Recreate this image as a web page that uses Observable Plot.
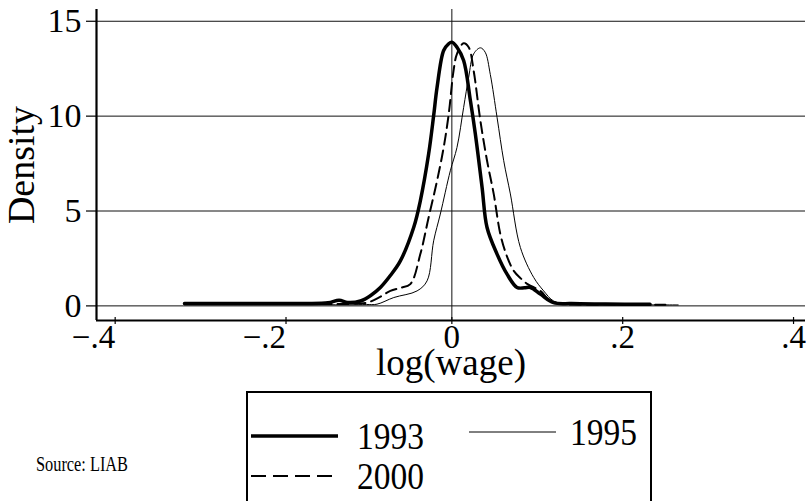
<!DOCTYPE html>
<html>
<head>
<meta charset="utf-8">
<script src="https://cdn.jsdelivr.net/npm/d3@7"></script>
<script src="https://cdn.jsdelivr.net/npm/@observablehq/plot@0.6"></script>
<style>
  html, body { margin: 0; padding: 0; background: #fff; }
  #wrap { position: relative; width: 807px; height: 501px; background: #fff; overflow: hidden; font-family: "Liberation Serif", "DejaVu Serif", serif; }
  #chart { position: absolute; left: 0; top: 0; }
  #legend { position: absolute; left: 0; top: 0; }
</style>
</head>
<body>
<div id="wrap">
  <div id="chart"></div>
  <div id="legend"></div>
</div>
<script>
// ---- data ----
const series = ["1993", "1995", "2000"];

const x1993 = [-0.313, -0.25, -0.18, -0.145, -0.132, -0.122, -0.107, -0.095, -0.0837, -0.072, -0.0603, -0.0447, -0.0369, -0.0272, -0.0213, -0.0173, -0.0096, -0.004, 0.000, 0.006, 0.0138, 0.0217, 0.0275, 0.0354, 0.0412, 0.0529, 0.0646, 0.0763, 0.085, 0.092, 0.1036, 0.119, 0.14, 0.18, 0.232];
const d1993 = [0.12, 0.12, 0.13, 0.16, 0.30, 0.18, 0.26, 0.55, 0.97, 1.6, 2.37, 4.13, 5.54, 8.0, 10.03, 11.52, 13.46, 13.8, 13.9, 13.63, 12.93, 10.82, 9.06, 6.24, 4.13, 2.73, 1.67, 0.97, 0.95, 0.97, 0.62, 0.17, 0.12, 0.1, 0.08];

const x1995 = [-0.313, -0.2, -0.12, -0.1, -0.0876, -0.068, -0.0407, -0.029, -0.0213, -0.0135, -0.0018, 0.006, 0.0138, 0.0197, 0.0255, 0.0334, 0.039, 0.045, 0.0529, 0.0607, 0.0685, 0.0802, 0.0958, 0.1075, 0.119, 0.135, 0.2, 0.265];
const d1995 = [0.06, 0.06, 0.06, 0.07, 0.09, 0.44, 0.79, 1.32, 3.43, 4.84, 7.12, 8.35, 10.46, 12.05, 13.28, 13.6, 13.37, 12.2, 9.94, 7.65, 5.9, 3.08, 1.5, 0.79, 0.26, 0.1, 0.06, 0.05];

const x2000 = [-0.313, -0.2, -0.13, -0.11, -0.099, -0.085, -0.072, -0.06, -0.0486, -0.0369, -0.0272, -0.0173, -0.0096, -0.0037, 0.002, 0.006, 0.0138, 0.0197, 0.0255, 0.0334, 0.0412, 0.049, 0.0568, 0.0646, 0.0724, 0.0806, 0.0886, 0.1036, 0.115, 0.13, 0.18, 0.25];
const d2000 = [0.1, 0.1, 0.1, 0.12, 0.17, 0.45, 0.79, 0.95, 1.15, 2.73, 4.66, 6.6, 8.35, 10.1, 12.4, 13.28, 13.84, 13.63, 12.4, 9.76, 7.65, 5.9, 3.78, 2.6, 1.85, 1.45, 1.15, 0.79, 0.26, 0.1, 0.08, 0.06];

const xTicksNeg = [-0.4, -0.2];
const xTicksPos = [0, 0.2, 0.4];
const yTicks = [0, 5, 10, 15];
const gridY = [0, 5, 10, 15];
const refX = [0];
const xTitle = "log(wage)";
const yTitle = "Density";
const sourceNote = "Source: LIAB";

// ---- build tables ----
const rows = (xs, ys, year) => xs.map((x, i) => ({x, y: ys[i], year}));
const data1993 = rows(x1993, d1993, "1993");
const data1995 = rows(x1995, d1995, "1995");
const data2000 = rows(x2000, d2000, "2000");

const xDomain = [-0.416, 0.414];
const yDomain = [-0.77, 15.62];
const font = "Liberation Serif";
const fmtX = d => d === 0 ? "0" : d3.format(".1f")(d).replace("0.", ".");

const chart = Plot.plot({
  width: 807,
  height: 390,
  marginLeft: 96,
  marginRight: 2,
  marginTop: 9,
  marginBottom: 70,
  style: {fontFamily: font, fontSize: "34px", color: "#000", background: "transparent", overflow: "visible"},
  x: {domain: xDomain},
  y: {domain: yDomain},
  marks: [
    Plot.ruleY(gridY, {stroke: "#111", strokeWidth: 1}),
    Plot.ruleX(refX, {stroke: "#111", strokeWidth: 1}),
    Plot.line(data1995, {x: "x", y: "y", stroke: "#000", strokeWidth: 1, curve: "catmull-rom"}),
    Plot.line(data2000, {x: "x", y: "y", stroke: "#000", strokeWidth: 2, strokeDasharray: "11,6", curve: "catmull-rom"}),
    Plot.line(data1993, {x: "x", y: "y", stroke: "#000", strokeWidth: 3.5, curve: "catmull-rom"}),
    Plot.ruleX([xDomain[0]], {stroke: "#000", strokeWidth: 2.2}),
    Plot.ruleY([yDomain[0]], {stroke: "#000", strokeWidth: 2.2}),
    Plot.axisY({ticks: yTicks, tickSize: 10, tickPadding: 5, tickFormat: d => String(d), label: null, fontSize: 34, strokeWidth: 1.2}),
    Plot.axisX({ticks: xTicksPos, tickSize: 7, tickPadding: 0, tickFormat: fmtX, label: null, fontSize: 33, strokeWidth: 1.2, dy: -3}),
    Plot.axisX({ticks: xTicksNeg, tickSize: 7, tickPadding: 0, tickFormat: fmtX, label: null, fontSize: 33, strokeWidth: 1.2, textAnchor: "end", dx: 5, dy: -3}),
    Plot.text([yTitle], {frameAnchor: "left", textAnchor: "middle", lineAnchor: "middle", dx: -75, rotate: -90, fontSize: 38, fill: "#000"}),
    Plot.text([xTitle], {frameAnchor: "bottom", textAnchor: "middle", lineAnchor: "middle", dy: 43, fontSize: 37, fill: "#000"})
  ]
});
document.getElementById("chart").appendChild(chart);

// ---- legend & source note (below the plot) ----
const leg = d3.select("#legend").append("svg")
  .attr("width", 807).attr("height", 501)
  .style("font-family", font);

const box = {left: 247, top: 392, right: 651, bottom: 502};
leg.append("rect")
  .attr("x", box.left).attr("y", box.top)
  .attr("width", box.right - box.left).attr("height", box.bottom - box.top)
  .attr("fill", "none").attr("stroke", "#000").attr("stroke-width", 2);

const legItems = [
  {label: series[0], x: 251, y: 436, w: 3.5, dash: null, tx: 357},
  {label: series[1], x: 469, y: 432, w: 1, dash: null, tx: 570},
  {label: series[2], x: 251, y: 476, w: 2, dash: "15,7", tx: 357}
];
legItems.forEach(it => {
  leg.append("line")
    .attr("x1", it.x).attr("x2", it.x + 87)
    .attr("y1", it.y).attr("y2", it.y)
    .attr("stroke", "#000").attr("stroke-width", it.w)
    .attr("stroke-dasharray", it.dash);
  leg.append("text")
    .attr("x", it.tx).attr("y", it.y + 13)
    .attr("font-size", 38)
    .attr("textLength", 67).attr("lengthAdjust", "spacingAndGlyphs")
    .attr("fill", "#000")
    .text(it.label);
});

leg.append("text")
  .attr("x", 36).attr("y", 471)
  .attr("font-size", 22)
  .attr("textLength", 92).attr("lengthAdjust", "spacingAndGlyphs")
  .attr("fill", "#000")
  .text(sourceNote);
</script>
</body>
</html>
